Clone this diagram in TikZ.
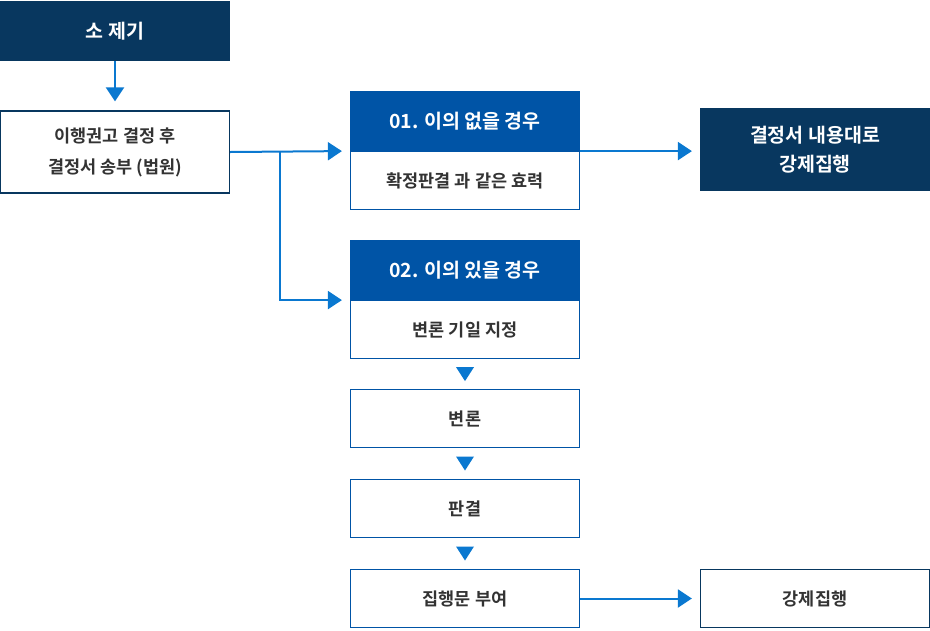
\documentclass[tikz,border=0pt]{standalone}
\usepackage{fontspec}
\setmainfont{Noto Sans CJK KR}[BoldFont={* Bold}]
\usetikzlibrary{arrows.meta,calc}
\definecolor{navy}{HTML}{08375F}
\definecolor{hblue}{HTML}{0054A6}
\definecolor{ablue}{HTML}{0A78D0}
\definecolor{txt}{HTML}{333333}
\tikzset{
  box/.style={draw, line width=1.2pt, minimum width=229pt, inner sep=0pt, align=center, font=\bfseries\fontsize{17.5}{31}\selectfont, text=txt, fill=white},
  navybox/.style={box, fill=navy, draw=navy, text=white, font=\bfseries\fontsize{19.5}{29}\selectfont},
  headbox/.style={box, fill=hblue, draw=hblue, text=white, minimum height=59pt, font=\bfseries\fontsize{19.5}{29}\selectfont},
  bodybox/.style={box, draw=hblue, minimum height=58pt},
  arr/.style={ablue, line width=2pt, -{Triangle[length=14pt,width=18pt]}},
  tri/.style={fill=ablue}
}
\begin{document}
\begin{tikzpicture}[x=1pt,y=-1pt]
\useasboundingbox (0,0) rectangle (930,630);
\node[navybox, minimum height=59pt] (start) at (115,31) {소 제기};
\node[box, draw=navy, minimum height=82pt] (recom) at (115,152) {이행권고 결정 후\\결정서 송부 (법원)};
\node[headbox] (h1) at (465,121) {01. 이의 없을 경우};
\node[bodybox, anchor=north] (b1) at (h1.south) {확정판결 과 같은 효력};
\node[headbox] (h2) at (465,270) {02. 이의 있을 경우};
\node[bodybox, anchor=north] (b2) at (h2.south) {변론 기일 지정};
\node[bodybox, minimum height=58pt] (debate) at (465,418.5) {변론};
\node[bodybox, minimum height=58pt] (judge) at (465,508.5) {판결};
\node[bodybox, minimum height=58pt] (exec) at (465,598.5) {집행문 부여};
\node[navybox, minimum height=82pt] (force1) at (815,149.5) {결정서 내용대로\\강제집행};
\node[box, draw=navy, minimum height=58pt] (force2) at (815,598.5) {강제집행};
\coordinate (split) at (280,152);
\draw[arr] (start.south) -- ($(recom.north)+(0,-9)$);
\draw[arr] (recom.east |- split) -- ($(h1.south west)+(-8,0)$);
\draw[arr] (split) |- ($(h2.south west)+(-8,0)$);
\draw[arr] (h1.south east) -- ($(force1.west |- h1.south)+(-8,0)$);
\draw[arr] (exec.east) -- ($(force2.west)+(-8,0)$);
\foreach \a/\b in {b2/debate, debate/judge, judge/exec}{
  \path ($(\a.south)!0.5!(\b.north)$) coordinate (m);
  \fill[tri] ($(m)+(-9,-7)$) -- ($(m)+(9,-7)$) -- ($(m)+(0,7)$) -- cycle;
}
\end{tikzpicture}
\end{document}
